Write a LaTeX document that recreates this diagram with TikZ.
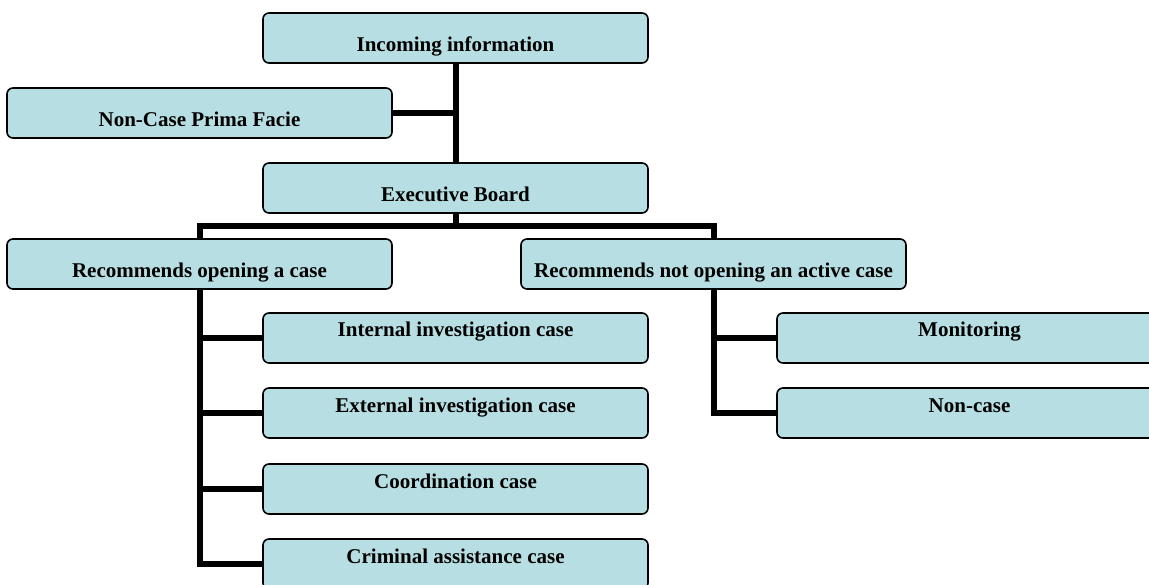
\documentclass[tikz,border=0pt]{standalone}
\usepackage{fontspec}
\setmainfont{Liberation Serif}
\usepackage{tikz}
\usetikzlibrary{positioning}

\definecolor{boxblue}{RGB}{183,223,227}

\begin{document}
\begin{tikzpicture}[x=1pt,y=-1pt,
	box/.style={draw=black,line width=1.6pt,fill=boxblue,rounded corners=6pt,
		minimum width=385pt,inner xsep=2pt,inner ysep=0pt,
		font=\bfseries\fontsize{21}{25}\selectfont},
	upper/.style={box,text height=39pt,text depth=11pt},
	lower/.style={box,text height=24pt,text depth=26pt},
	link/.style={line width=6pt}]
	\clip (0,0) rectangle (1149,585);

	\node[upper] (inc) at (455.5,38) {Incoming information};
	\node[upper] (nonc) at (199.5,113) {Non-Case Prima Facie};
	\node[upper] (exec) at (455.5,188) {Executive Board};
	\node[upper] (open) at (199.5,264) {Recommends opening a case};
	\node[upper] (notopen) at (713.5,264) {Recommends not opening an active case};

	\node[lower] (internal) at (455.5,338) {Internal investigation case};
	\node[lower] (external) at (455.5,413) {External investigation case};
	\node[lower] (coord) at (455.5,489) {Coordination case};
	\node[lower] (crim) at (455.5,564) {Criminal assistance case};
	\node[lower] (monit) at (969.5,338) {Monitoring};
	\node[lower] (noncase) at (969.5,413) {Non-case};

	\draw[link] (inc.south) -- (exec.north);
	\draw[link] (nonc.east) -- (nonc.east -| inc.south);

	\coordinate (bar) at (455.5,226);
	\draw[link] (exec.south) -- (bar);
	\draw[link] (open.north) |- (bar) -| (notopen.north);

	\foreach \n in {internal,external,coord,crim} \draw[link] (open.south) |- (\n.west);
	\foreach \n in {monit,noncase} \draw[link] (notopen.south) |- (\n.west);
\end{tikzpicture}
\end{document}
